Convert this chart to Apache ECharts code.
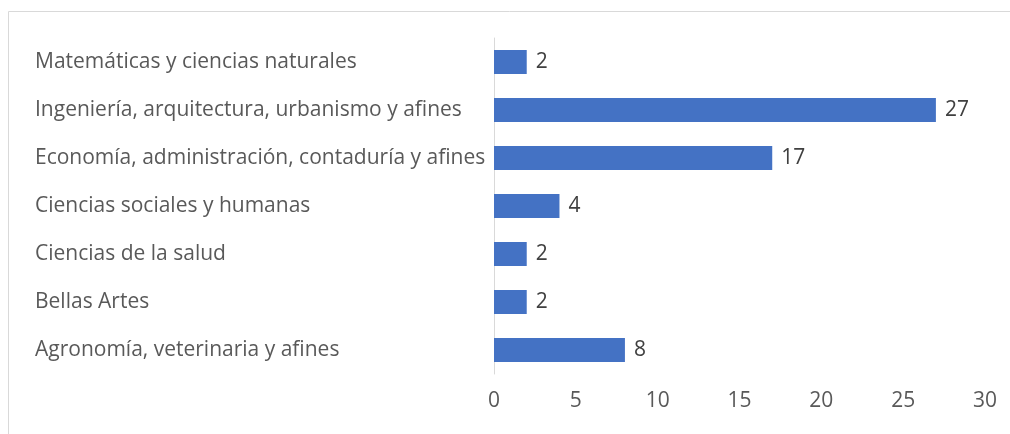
<!DOCTYPE html>
<html><head><meta charset="utf-8">
<script src="https://cdn.jsdelivr.net/npm/echarts@6/dist/echarts.min.js"></script>
<style>html,body{margin:0;padding:0;background:#fff}#c{width:1010px;height:434px}</style>
</head><body><div id="c"></div>
<script>
const categories = ["Matemáticas y ciencias naturales","Ingeniería, arquitectura, urbanismo y afines","Economía, administración, contaduría y afines","Ciencias sociales y humanas","Ciencias de la salud","Bellas Artes","Agronomía, veterinaria y afines"];
const values = [2,27,17,4,2,2,8];
const xTicks = [0,5,10,15,20,25,30];
const font = "Open Sans";
const chart = echarts.init(document.getElementById('c'));
chart.setOption({
  animation:false,
  graphic:[{type:'rect',shape:{x:8.5,y:11.5,width:1010,height:440},style:{fill:'none',stroke:'#d9d9d9',lineWidth:1}}],
  grid:{left:494,top:38,width:491,height:336},
  xAxis:{type:'value',min:0,max:30,interval:5,
    axisLine:{show:false},axisTick:{show:false},splitLine:{show:false},
    axisLabel:{color:'#595959',fontFamily:font,fontSize:21,margin:17}},
  yAxis:{type:'category',inverse:true,data:categories,
    axisLine:{show:true,lineStyle:{color:'#d9d9d9',width:1}},axisTick:{show:false},
    axisLabel:{color:'#595959',fontFamily:font,fontSize:21,align:'left',margin:459}},
  series:[{type:'bar',data:values,barCategoryGap:'50%',
    itemStyle:{color:'#4472C4'},
    label:{show:true,position:'right',distance:9,color:'#404040',fontFamily:font,fontSize:21}}]
});
</script></body></html>
